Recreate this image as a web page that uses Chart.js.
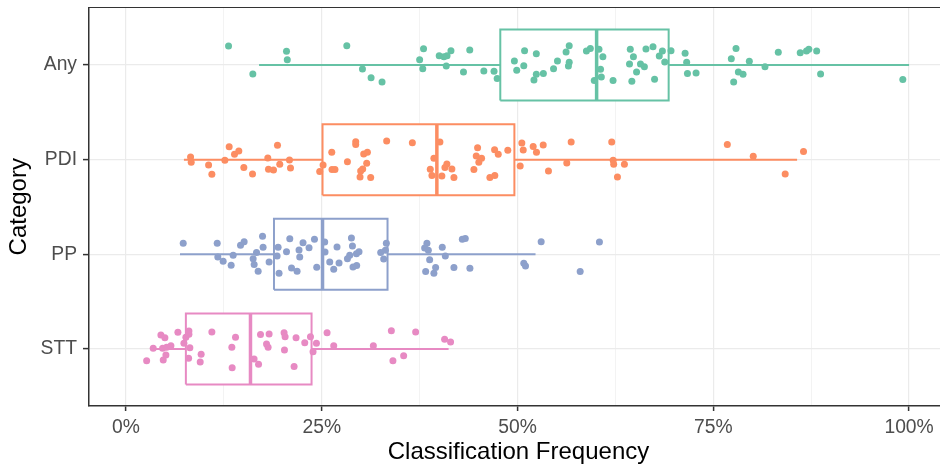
<!DOCTYPE html>
<html>
<head>
<meta charset="utf-8">
<script src="https://cdn.jsdelivr.net/npm/chart.js@4/dist/chart.umd.min.js"></script>
<style>
  html, body { margin: 0; padding: 0; background: #fff; overflow: hidden; }
  #wrap { width: 940px; height: 467px; overflow: hidden; }
</style>
</head>
<body>
<div id="wrap"><canvas id="boxChart" width="952" height="467"></canvas></div>
<script>
// categories, top to bottom
const categories = ['Any', 'PDI', 'PP', 'STT'];
const catPos = [4, 3, 2, 1];
const colors = ['#66C2A5', '#FC8D62', '#8DA0CB', '#E78AC3'];
const xTicks = [0, 25, 50, 75, 100];

// boxplot stats (percent)
const whiskLo = [17.0, 7.4, 6.9, 3.3];
const q1 = [47.8, 25.1, 18.9, 7.65];
const median = [60.1, 39.7, 25.1, 15.9];
const q3 = [69.3, 49.6, 33.4, 23.7];
const whiskHi = [100, 85.7, 52.3, 41.2];

// jittered points: x = frequency (%), jit = vertical offset from category
const anyX = [13.1, 16.2, 20.5, 20.6, 28.2, 30.2, 31.3, 32.7, 38.0, 37.5, 37.9, 40.0, 40.6, 41.0, 41.5, 40.9, 43.9, 43.1, 45.7, 47.0, 47.4, 49.6, 49.9, 50.9, 50.8, 52.4, 52.4, 52.1, 53.3, 54.6, 55.1, 56.2, 56.6, 56.6, 56.5, 58.8, 59.3, 60.4, 60.9, 60.6, 60.7, 59.8, 62.2, 64.4, 64.8, 64.3, 65.7, 66.2, 65.2, 64.6, 66.4, 67.3, 68.1, 68.5, 68.8, 67.5, 69.6, 71.4, 71.6, 71.7, 72.8, 77.9, 77.3, 79.6, 78.2, 78.8, 77.6, 81.6, 83.3, 86.1, 86.9, 87.2, 88.2, 88.7, 99.2];
const anyJit = [0.20, -0.095, 0.144, 0.056, 0.203, -0.042, -0.134, -0.179, 0.172, 0.056, -0.039, 0.098, 0.087, 0.098, 0.151, -0.011, 0.158, -0.074, -0.063, -0.066, -0.144, 0.042, -0.056, 0.151, -0.007, 0.119, -0.098, -0.158, -0.091, -0.039, 0.042, 0.137, 0.203, 0.028, -0.011, 0.147, 0.175, 0.165, 0.088, -0.045, -0.126, -0.165, -0.165, 0.165, 0.088, 0.011, 0.011, -0.018, -0.074, -0.172, 0.168, 0.192, 0.095, 0.147, 0.032, -0.151, 0.151, 0.123, 0.028, -0.091, -0.084, 0.175, 0.067, 0.039, -0.074, -0.098, -0.179, -0.018, 0.134, 0.130, 0.147, 0.165, 0.147, -0.095, -0.154];

const pdiX = [8.25, 8.33, 10.55, 10.97, 12.63, 13.18, 13.86, 14.41, 15.05, 16.16, 18.11, 19.35, 18.20, 18.84, 19.64, 20.88, 21.01, 24.74, 25.17, 26.28, 26.31, 26.69, 28.28, 29.34, 29.34, 30.36, 30.83, 30.74, 30.23, 29.97, 29.89, 31.25, 33.29, 36.57, 40.09, 39.32, 38.86, 39.07, 40.34, 40.73, 40.98, 41.62, 41.88, 44.43, 44.90, 44.73, 45.41, 45.06, 47.07, 47.54, 48.76, 46.47, 47.10, 50.55, 50.73, 50.34, 52.0, 52.42, 53.28, 53.95, 56.29, 56.85, 62.03, 62.21, 62.28, 63.65, 62.76, 76.79, 80.10, 84.18, 86.52];
const pdiJit = [0.028, -0.028, -0.056, -0.154, -0.007, 0.137, 0.056, 0.091, -0.084, -0.151, 0.018, 0.151, -0.102, -0.109, -0.049, -0.003, -0.088, -0.126, -0.056, 0.077, -0.105, -0.105, -0.021, 0.189, 0.161, 0.060, 0.077, -0.039, -0.098, -0.119, -0.182, -0.189, 0.197, 0.179, 0.186, 0.014, -0.102, -0.168, -0.172, -0.084, -0.046, -0.098, -0.189, -0.105, 0.126, 0.039, 0.014, -0.028, 0.105, 0.056, 0.098, -0.189, -0.168, 0.175, 0.102, -0.066, 0.140, 0.077, 0.155, -0.119, -0.035, 0.186, 0.186, -0.007, -0.049, -0.049, -0.182, 0.161, 0.035, -0.151, 0.087];

const ppX = [7.31, 11.65, 11.73, 12.41, 13.43, 13.69, 14.63, 15.09, 17.44, 17.51, 16.67, 16.24, 16.37, 16.88, 18.28, 19.43, 19.30, 19.55, 20.50, 20.92, 21.14, 21.85, 22.19, 22.10, 22.61, 23.38, 24.07, 24.36, 25.38, 25.42, 26.02, 26.53, 26.95, 27.21, 28.79, 28.92, 28.57, 28.28, 29.43, 28.99, 29.46, 29.76, 32.53, 33.25, 33.13, 32.91, 38.43, 38.14, 38.61, 38.78, 38.27, 39.32, 39.54, 40.39, 40.78, 41.88, 42.95, 43.33, 43.92, 50.80, 51.02, 53.02, 58.00, 60.46];
const ppJit = [0.116, 0.116, -0.028, -0.074, -0.116, -0.011, 0.095, 0.134, 0.192, 0.074, 0.018, -0.046, -0.108, -0.179, -0.081, 0.074, -0.018, -0.200, 0.028, 0.165, -0.144, -0.179, -0.028, 0.045, 0.123, 0.070, 0.158, -0.137, 0.130, 0.024, -0.081, -0.158, 0.077, -0.091, 0.172, 0.087, -0.011, -0.046, 0.007, -0.133, -0.119, 0.028, 0.018, 0.116, 0.042, -0.049, 0.116, 0.067, 0.042, -0.056, -0.182, -0.200, -0.140, 0.074, -0.018, -0.140, 0.158, 0.168, -0.147, -0.095, -0.123, 0.134, -0.182, 0.130];

const sttX = [2.64, 3.48, 4.46, 4.97, 4.68, 5.19, 5.74, 5.10, 4.76, 6.63, 7.40, 7.65, 8.04, 8.04, 8.16, 8.00, 9.60, 9.48, 10.97, 13.52, 13.99, 13.56, 16.36, 16.93, 17.18, 18.28, 17.95, 18.15, 20.19, 20.32, 20.24, 21.47, 21.72, 22.83, 23.56, 24.32, 23.89, 25.68, 26.53, 31.59, 33.89, 34.09, 35.46, 36.99, 40.69, 41.45];
const sttJit = [-0.123, 0.007, 0.147, 0.119, 0.007, 0.018, 0.035, -0.063, -0.116, 0.176, 0.060, 0.123, 0.189, 0.155, 0.014, -0.098, -0.056, -0.137, 0.179, 0.018, 0.123, -0.197, -0.105, -0.161, 0.154, 0.158, 0.053, 0.018, 0.172, 0.129, -0.011, -0.186, 0.119, 0.066, 0.129, 0.060, -0.028, 0.172, 0.035, 0.035, 0.193, -0.123, -0.071, 0.179, 0.102, 0.074];

const pointsX = [anyX, pdiX, ppX, sttX];
const pointsJit = [anyJit, pdiJit, ppJit, sttJit];

const boxHalf = 0.375;
const fontFam = '"Liberation Sans", Arial, Helvetica, sans-serif';

var datasets = [];
// jitter points first so they draw on top
categories.forEach(function (c, i) {
    datasets.push({
        label: c,
        data: pointsX[i].map(function (x, j) { return { x: x, y: catPos[i] + pointsJit[i][j] }; }),
        backgroundColor: colors[i],
        borderWidth: 0,
        pointRadius: 3.5,
        order: 0
    });
});
// boxes, whiskers, medians
categories.forEach(function (c, i) {
    var y = catPos[i], lo = y - boxHalf, hi = y + boxHalf;
    var lineDs = function (pts, w, extra) {
        return Object.assign({
            data: pts, showLine: true, borderColor: colors[i], borderWidth: w,
            pointRadius: 0, fill: false, order: 1
        }, extra || {});
    };
    datasets.push(lineDs([{ x: whiskLo[i], y: y }, { x: q1[i], y: y }], 2));
    datasets.push(lineDs([{ x: q3[i], y: y }, { x: whiskHi[i], y: y }], 2));
    datasets.push(lineDs([{ x: median[i], y: lo }, { x: median[i], y: hi }], 3.5));
    datasets.push(lineDs([
        { x: q1[i], y: lo }, { x: q3[i], y: lo }, { x: q3[i], y: hi },
        { x: q1[i], y: hi }, { x: q1[i], y: lo }
    ], 2, { fill: 'shape', backgroundColor: '#ffffff', order: 2 }));
});

// top border of the panel
const panelBorder = {
    id: 'panelBorder',
    afterDraw(chart) {
        var a = chart.chartArea, ctx = chart.ctx;
        ctx.save();
        ctx.strokeStyle = '#333333';
        ctx.lineWidth = 1.2;
        ctx.beginPath();
        ctx.moveTo(a.left, a.top);
        ctx.lineTo(a.right + 5, a.top);
        ctx.stroke();
        ctx.restore();
    }
};

var ctx = document.getElementById('boxChart').getContext('2d');
var boxChart = new Chart(ctx, {
    type: 'scatter',
    data: { datasets: datasets },
    plugins: [panelBorder],
    options: {
        responsive: false,
        animation: false,
        devicePixelRatio: 1,
        layout: { padding: { top: 7.5, right: 3, left: 0, bottom: 0 } },
        plugins: { legend: { display: false }, tooltip: { enabled: false } },
        scales: {
            x: {
                type: 'linear',
                min: -4.72,
                max: 104.97,
                afterBuildTicks: function (scale) {
                    var t = [];
                    for (var v = 0; v <= 100; v += 12.5) t.push({ value: v });
                    scale.ticks = t;
                },
                afterFit: function (scale) {
                    scale.height = 61;
                    scale.paddingLeft = 0;
                    scale.paddingRight = 0;
                },
                grid: {
                    color: '#EBEBEB',
                    lineWidth: function (c) { return c.tick && c.tick.value % 25 === 0 ? 1.2 : 0.6; },
                    tickColor: function (c) { return c.tick && c.tick.value % 25 === 0 ? '#333333' : 'rgba(0,0,0,0)'; },
                    tickLength: 5,
                    tickWidth: 1.5
                },
                border: { display: true, color: '#333333', width: 1.5 },
                ticks: {
                    autoSkip: false,
                    maxRotation: 0,
                    padding: 5,
                    color: '#4D4D4D',
                    font: { family: fontFam, size: 19.3 },
                    callback: function (v) { return xTicks.indexOf(v) >= 0 ? v + '%' : ''; }
                },
                title: {
                    display: true,
                    text: 'Classification Frequency',
                    color: '#000000',
                    font: { family: fontFam, size: 24 },
                    padding: { top: 0, bottom: 0 }
                }
            },
            y: {
                type: 'linear',
                min: 0.398,
                max: 4.607,
                afterBuildTicks: function (scale) {
                    scale.ticks = catPos.map(function (p) { return { value: p }; });
                },
                afterFit: function (scale) {
                    scale.width = 89;
                    scale.paddingTop = 0;
                    scale.paddingBottom = 0;
                },
                grid: {
                    color: '#EBEBEB',
                    lineWidth: 1.2,
                    tickColor: '#333333',
                    tickLength: 6,
                    tickWidth: 1.5
                },
                border: { display: true, color: '#333333', width: 1.5 },
                ticks: {
                    autoSkip: false,
                    padding: 6,
                    color: '#4D4D4D',
                    font: { family: fontFam, size: 19.3 },
                    callback: function (v) { return categories[catPos.indexOf(v)] || ''; }
                },
                title: {
                    display: true,
                    text: 'Category',
                    color: '#000000',
                    font: { family: fontFam, size: 24 },
                    padding: { top: 5, bottom: 0 }
                }
            }
        }
    }
});
</script>
</body>
</html>
